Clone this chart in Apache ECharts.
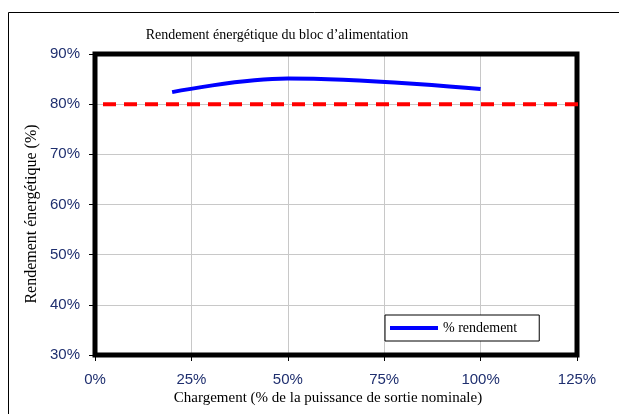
<!DOCTYPE html>
<html>
<head>
<meta charset="utf-8">
<script src="https://cdn.jsdelivr.net/npm/echarts@6/dist/echarts.min.js"></script>
<style>
  html, body { margin: 0; padding: 0; background: #fff; }
  #chart { width: 619px; height: 414px; }
</style>
</head>
<body>
<div id="chart"></div>
<script>
// load (% of nominal output) and measured efficiency (%)
const loadPct = [20, 50, 100];
const efficiency = [82.4, 85.1, 83.0];
// 80 PLUS threshold line
const thresholdX = [0, 126];
const thresholdY = [80, 80];
const xTicks = [0, 25, 50, 75, 100, 125];
const yTicks = [30, 40, 50, 60, 70, 80, 90];

const tickColor = '#1f2f6f';
const serif = '"Liberation Serif", "DejaVu Serif", serif';
const sans = '"Liberation Sans", Arial, sans-serif';

let myChart = echarts.init(document.getElementById('chart'));
myChart.setOption({
  animation: false,
  grid: {
    left: 95, right: 42, top: 54, bottom: 59,
    show: true,
    borderColor: '#000',
    borderWidth: 5,
    z: 3
  },
  graphic: [
    {
      type: 'rect', silent: true,
      shape: { x: 8.5, y: 12.5, width: 700, height: 500 },
      style: { fill: 'none', stroke: '#000', lineWidth: 1 }
    },
    {
      type: 'text', x: 277, y: 35,
      style: { text: 'Rendement énergétique du bloc d’alimentation', font: '14px ' + serif, fill: '#000', align: 'center', verticalAlign: 'middle' }
    },
    {
      type: 'text', x: 328, y: 398,
      style: { text: 'Chargement (% de la puissance de sortie nominale)', font: '15px ' + serif, fill: '#000', align: 'center', verticalAlign: 'middle' }
    },
    {
      type: 'text', x: 32, y: 214, rotation: Math.PI / 2,
      style: { text: 'Rendement énergétique (%)', font: '16px ' + serif, fill: '#000', align: 'center', verticalAlign: 'middle' }
    }
  ],
  legend: {
    left: 385, top: 315,
    orient: 'horizontal',
    data: [{ name: '% rendement', icon: 'rect' }],
    itemWidth: 48, itemHeight: 4, itemGap: 10,
    padding: [6, 22, 6, 5],
    borderColor: '#000', borderWidth: 1,
    backgroundColor: '#fff',
    textStyle: { fontFamily: serif, fontSize: 14, color: '#000' }
  },
  xAxis: {
    type: 'value',
    min: xTicks[0], max: xTicks[xTicks.length - 1], interval: 25,
    axisLine: { show: false },
    axisTick: { show: true, length: 6, lineStyle: { color: '#000' } },
    axisLabel: { formatter: '{value}%', margin: 17, fontFamily: sans, fontSize: 15, color: tickColor },
    splitLine: { show: true, lineStyle: { color: '#c8c8c8', width: 1 } }
  },
  yAxis: {
    type: 'value',
    min: yTicks[0], max: yTicks[yTicks.length - 1], interval: 10,
    axisLine: { show: false },
    axisTick: { show: true, length: 6, lineStyle: { color: '#000' } },
    axisLabel: { formatter: '{value}%', margin: 15, fontFamily: sans, fontSize: 15, color: tickColor },
    splitLine: { show: true, lineStyle: { color: '#c8c8c8', width: 1 } }
  },
  series: [
    {
      name: 'seuil',
      type: 'line',
      data: thresholdX.map((x, i) => [x, thresholdY[i]]),
      showSymbol: false,
      clip: false,
      z: 4,
      lineStyle: { color: '#ff0000', width: 4, type: [13, 8], dashOffset: -8 }
    },
    {
      name: '% rendement',
      type: 'line',
      data: loadPct.map((x, i) => [x, efficiency[i]]),
      smooth: 0.4,
      showSymbol: false,
      z: 4,
      itemStyle: { color: '#0000ff' },
      lineStyle: { color: '#0000ff', width: 4 }
    }
  ]
});

window.addEventListener('resize', function() {
  myChart.resize();
});
</script>
</body>
</html>
